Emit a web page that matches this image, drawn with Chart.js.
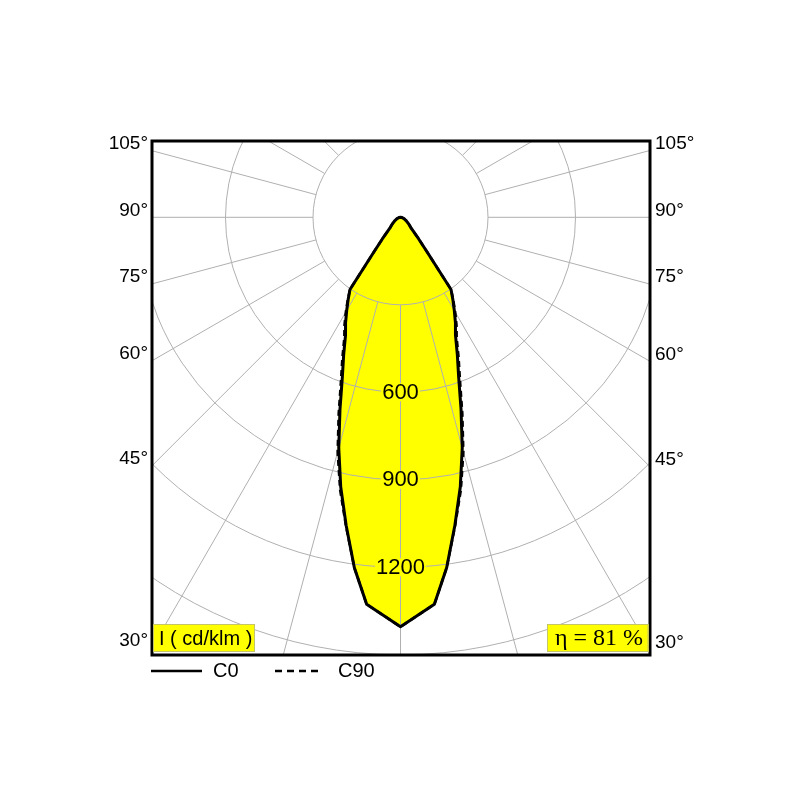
<!DOCTYPE html>
<html><head><meta charset="utf-8">
<script src="https://cdn.jsdelivr.net/npm/chart.js@4.4.0/dist/chart.umd.min.js"></script>
<style>html,body{margin:0;padding:0;background:#fff;}#wrap{width:800px;height:800px;position:relative;}</style>
</head><body><div id="wrap"><canvas id="c" width="800" height="800"></canvas></div>
<script>
// gamma angles (degrees from nadir)
const gammaAngles = [0, 5, 7.5, 10, 12.5, 15, 17.5, 20, 22.5, 25, 27.5, 30, 32.5, 35, 37.5, 40, 45, 50, 60, 70, 80, 90];
// luminous intensity, cd/klm
const intensityC0  = [1404, 1332, 1212, 1073, 947, 818, 690, 583, 509, 446, 408, 369, 334, 302, 150, 97, 50, 38, 22, 12, 5, 0];
const intensityC90 = [1404, 1332, 1212, 1076, 957, 833, 705, 597, 521, 456, 416, 375, 337, 302, 150, 97, 50, 38, 22, 12, 5, 0];
const ringValues = [300, 600, 900, 1200, 1500];
const ringLabelValues = [600, 900, 1200];
const radialStepDeg = 15;
const sideLabelAngles = [105, 90, 75, 60, 45, 30];
const sideLabels = ['105°', '90°', '75°', '60°', '45°', '30°'];
const unitLabel = 'I ( cd/klm )';
const efficiencyLabel = 'η = 81 %';
const seriesNames = ['C0', 'C90'];
const xRange = [-852, 855.4];
const yRange = [-1500.7, 261.6];

const rad = d => d * Math.PI / 180;
function toXY(angles, vals) {
  const pts = [];
  for (let i = angles.length - 1; i >= 0; i--) pts.push({x: -vals[i] * Math.sin(rad(angles[i])), y: -vals[i] * Math.cos(rad(angles[i]))});
  for (let i = 1; i < angles.length; i++) pts.push({x: vals[i] * Math.sin(rad(angles[i])), y: -vals[i] * Math.cos(rad(angles[i]))});
  return pts;
}

const SANS = '"Liberation Sans", Arial, sans-serif';
const SERIF = '"Liberation Serif", "Times New Roman", serif';
const YELLOW = '#ffff00';

const polarPlugin = {
  id: 'polarGrid',
  beforeDatasetsDraw(chart) {
    const {ctx, chartArea: a, scales: {x, y}} = chart;
    const cx = x.getPixelForValue(0), cy = y.getPixelForValue(0);
    const px = v => y.getPixelForValue(-v) - cy;
    ctx.save();
    ctx.beginPath(); ctx.rect(a.left, a.top, a.width, a.height); ctx.clip();
    ctx.strokeStyle = '#b0b0b0'; ctx.lineWidth = 1;
    ringValues.forEach(v => { ctx.beginPath(); ctx.arc(cx, cy, px(v), 0, Math.PI * 2); ctx.stroke(); });
    const r0 = px(ringValues[0]), r1 = px(4000);
    for (let g = 0; g < 360; g += radialStepDeg) {
      const s = Math.sin(rad(g)), c = Math.cos(rad(g));
      ctx.beginPath(); ctx.moveTo(cx + r0 * s, cy + r0 * c); ctx.lineTo(cx + r1 * s, cy + r1 * c); ctx.stroke();
    }
    ctx.restore();
  },
  afterDatasetsDraw(chart) {
    const {ctx, scales: {x, y}} = chart;
    const cx = x.getPixelForValue(0);
    ctx.save();
    ctx.font = '22px ' + SANS; ctx.textAlign = 'center'; ctx.textBaseline = 'middle';
    ringLabelValues.forEach(v => {
      const py = y.getPixelForValue(-v);
      const w = ctx.measureText(String(v)).width;
      ctx.fillStyle = YELLOW; ctx.fillRect(cx - w / 2 - 1, py - 9, w + 2, 18);
      ctx.fillStyle = '#000'; ctx.fillText(String(v), cx, py + 0.5);
    });
    ctx.restore();
  },
  afterDraw(chart) {
    const {ctx, chartArea: a, scales: {x, y}} = chart;
    const cx = x.getPixelForValue(0), cy = y.getPixelForValue(0);
    ctx.save();
    // frame
    ctx.strokeStyle = '#000'; ctx.lineWidth = 3;
    ctx.strokeRect(a.left, a.top, a.width, a.height);
    // side angle labels
    ctx.font = '19px ' + SANS; ctx.fillStyle = '#000'; ctx.textBaseline = 'middle';
    sideLabelAngles.forEach((g, i) => {
      const s = Math.sin(rad(g)), c = Math.cos(rad(g));
      const yl = cy + (cx - a.left) / s * c - 7;
      const yr = cy + (a.right - cx) / s * c - 7;
      ctx.textAlign = 'right'; ctx.fillText(sideLabels[i], a.left - 4, yl);
      ctx.textAlign = 'left'; ctx.fillText(sideLabels[i], a.right + 5, yr);
    });
    // unit box
    ctx.fillStyle = YELLOW; ctx.strokeStyle = '#c4c46a'; ctx.lineWidth = 1;
    ctx.fillRect(a.left + 1, a.bottom - 31, 102, 28); ctx.strokeRect(a.left + 1.5, a.bottom - 30.5, 101, 27);
    ctx.fillStyle = '#000'; ctx.textAlign = 'left'; ctx.font = '20px ' + SANS;
    ctx.fillText(unitLabel, a.left + 7, a.bottom - 16);
    // efficiency box
    ctx.fillStyle = YELLOW;
    ctx.fillRect(a.right - 103, a.bottom - 31, 101.5, 28); ctx.strokeRect(a.right - 102.5, a.bottom - 30.5, 100.5, 27);
    ctx.fillStyle = '#000'; ctx.font = '24px ' + SERIF; ctx.textAlign = 'center';
    ctx.fillText(efficiencyLabel, a.right - 51, a.bottom - 16);
    // legend
    const ly = a.bottom + 16;
    ctx.strokeStyle = '#000'; ctx.lineWidth = 2.5;
    ctx.beginPath(); ctx.moveTo(151, ly); ctx.lineTo(202, ly); ctx.stroke();
    ctx.setLineDash([7, 5]);
    ctx.beginPath(); ctx.moveTo(275, ly); ctx.lineTo(320, ly); ctx.stroke();
    ctx.setLineDash([]);
    ctx.font = '20px ' + SANS; ctx.textAlign = 'left';
    ctx.fillText(seriesNames[0], 213, ly);
    ctx.fillText(seriesNames[1], 338, ly);
    ctx.restore();
  }
};

new Chart(document.getElementById('c'), {
  type: 'scatter',
  data: {
    datasets: [
      {label: seriesNames[0], data: toXY(gammaAngles, intensityC0), showLine: true, fill: 'shape',
       backgroundColor: YELLOW, borderColor: '#000', borderWidth: 3, pointRadius: 0, tension: 0,
       borderJoinStyle: 'round', borderCapStyle: 'round', order: 0},
      {label: seriesNames[1], data: toXY(gammaAngles, intensityC90), showLine: true, fill: 'shape',
       backgroundColor: YELLOW, borderColor: '#000', borderWidth: 2.5, borderDash: [6, 4], pointRadius: 0, tension: 0,
       order: 1}
    ]
  },
  options: {
    responsive: false, animation: false,
    layout: {padding: {left: 152, right: 150, top: 141, bottom: 145}},
    scales: {
      x: {type: 'linear', display: false, min: xRange[0], max: xRange[1]},
      y: {type: 'linear', display: false, min: yRange[0], max: yRange[1]}
    },
    plugins: {legend: {display: false}, tooltip: {enabled: false}, filler: {drawTime: 'beforeDatasetsDraw'}}
  },
  plugins: [polarPlugin]
});
</script></body></html>
